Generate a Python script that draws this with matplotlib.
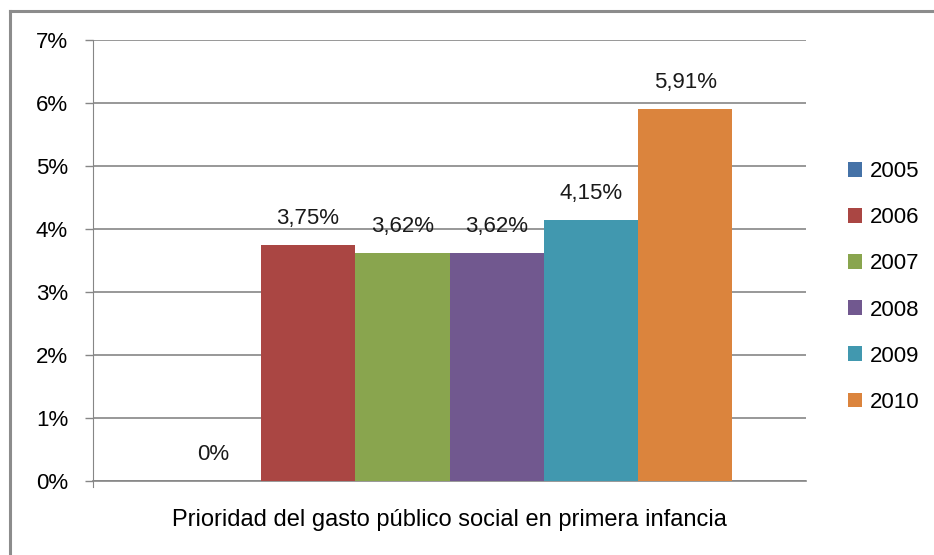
import numpy as np
import matplotlib
matplotlib.use("Agg")
import matplotlib.pyplot as plt
from matplotlib.patches import Patch

years = ["2005", "2006", "2007", "2008", "2009", "2010"]
values = [0.0, 3.75, 3.62, 3.62, 4.15, 5.91]
labels = ["0%", "3,75%", "3,62%", "3,62%", "4,15%", "5,91%"]
colors = ["#4572a7", "#aa4643", "#89a54e", "#71588f", "#4198af", "#db843d"]
yticks = [0, 1, 2, 3, 4, 5, 6, 7]
category = "Prioridad del gasto público social en primera infancia"

plt.rcParams["font.family"] = ["Liberation Sans", "DejaVu Sans"]
fs = 16

fig = plt.figure(figsize=(9.34, 5.55), dpi=100)
W, H = 934, 555
ax = fig.add_axes([93 / W, 74 / H, 713 / W, 441 / H])

# outer chart border (left and top only visible)
fig.add_artist(plt.Line2D([9.5 / W, 9.5 / W], [0, (H - 11) / H], color="#8c8c8c", lw=2.2))
fig.add_artist(plt.Line2D([9.5 / W, 1], [(H - 11) / H, (H - 11) / H], color="#8c8c8c", lw=2.2))

width = 0.1323
n = len(years)
offsets = (np.arange(n) - (n - 1) / 2) * width
for i in range(n):
    ax.bar(offsets[i], values[i], width=width, color=colors[i], label=years[i], zorder=3)
    ax.annotate(labels[i], (offsets[i], values[i]), xytext=(0, 19), textcoords="offset points",
                ha="center", va="center", fontsize=fs, color="#1a1a1a", zorder=4)

ax.set_xlim(-0.5, 0.5)
ax.set_ylim(0, 7)
ax.set_yticks(yticks)
ax.set_yticklabels([f"{t}%" for t in yticks], fontsize=fs)
ax.yaxis.grid(True, color="#868686", lw=1.2, zorder=0)
ax.set_xticks([])
ax.tick_params(axis="y", length=6, width=1, color="#868686", pad=12)
for s in ["top", "right"]:
    ax.spines[s].set_visible(False)
ax.spines["left"].set_color("#868686")
ax.spines["left"].set_bounds(-0.1, 7)
ax.spines["bottom"].set_color("#868686")
ax.spines["bottom"].set_linewidth(1.2)
ax.set_xlabel(category, fontsize=17, labelpad=20)

handles = [Patch(facecolor=c, label=y) for c, y in zip(colors, years)]
fig.legend(handles=handles, loc="center left", bbox_to_anchor=(828 / W, (H - 287) / H),
           frameon=False, fontsize=fs, handlelength=0.65, handleheight=0.65,
           labelspacing=1.13, handletextpad=0.35)

fig.savefig("out.png", dpi=100)
